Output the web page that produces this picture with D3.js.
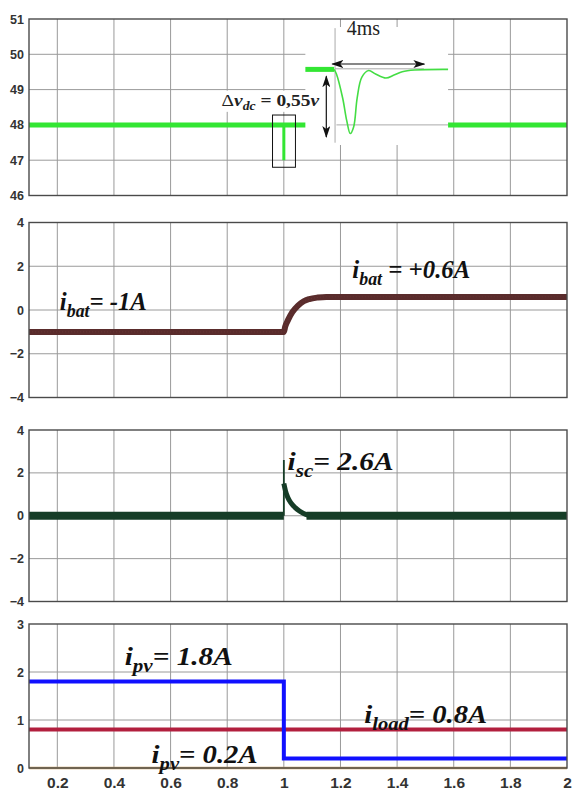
<!DOCTYPE html>
<html><head><meta charset="utf-8">
<script src="https://cdn.jsdelivr.net/npm/d3@7"></script>
<style>body{margin:0;background:#fff}svg{display:block}</style>
</head><body><svg id="c" width="573" height="793"></svg>
<script>
// ---------- data ----------
const xTickValues = [0.2,0.4,0.6,0.8,1,1.2,1.4,1.6,1.8,2];
const xTickLabels = ["0.2","0.4","0.6","0.8","1","1.2","1.4","1.6","1.8","2"];
const vdcTicks = [46,47,48,49,50,51];
const curTicks = [-4,-2,0,2,4];
const pvTicks = [0,1,2,3];

// panel 1: DC bus voltage
const vdcT = [0.1, 2.0];
const vdcV = [48, 48];
const vdcSpikeT = [1.0, 1.0];
const vdcSpikeV = [48, 47];
// zoomed inset (time in ms, voltage in V)
const insetThickT = [-1.25, 0];
const insetThickV = [48, 48];
const insetCurveT = [0, 0.1, 0.37, 0.55, 0.7, 0.85, 1.0, 1.2, 1.5, 1.8, 2.25, 2.6, 2.96, 3.5, 4.95];
const insetCurveV = [48, 47.96, 47.75, 47.55, 47.44, 47.5, 47.75, 47.93, 47.99, 47.96, 47.925, 47.95, 47.98, 47.995, 48];

// panel 2: battery current
const batT = [0.1, 1.0, 1.005, 1.015, 1.03, 1.05, 1.07, 1.09, 1.12, 1.15, 2.0];
const batV = [-1, -1, -0.75, -0.45, -0.1, 0.2, 0.4, 0.5, 0.57, 0.6, 0.6];

// panel 3: supercapacitor current
const scFlatT = [0.1, 1.0];
const scFlatV = [0, 0];
const scSpikeT = [1.0, 1.0];
const scSpikeV = [0, 2.6];
const scDecayT = [1.0, 1.006, 1.014, 1.025, 1.04, 1.055, 1.07, 1.085, 1.1];
const scDecayV = [1.5, 1.15, 0.85, 0.6, 0.38, 0.22, 0.1, 0.03, 0];
const scTailT = [1.08, 2.0];
const scTailV = [0, 0];

// panel 4: PV and load currents
const pvT = [0.1, 1.0, 1.0, 2.0];
const pvV = [1.8, 1.8, 0.2, 0.2];
const loadT = [0.1, 2.0];
const loadV = [0.8, 0.8];
const zeroT = [0.1, 2.0];
const zeroV = [0, 0];

// ---------- layout ----------
const svg = d3.select("#c");
const left = 29, right = 567;
const x = d3.scaleLinear().domain([0.1, 2.0]).range([left, right]);
const panels = [
  {top: 19,  bottom: 195.5, domain: [46, 51], ticks: vdcTicks},
  {top: 222.5, bottom: 397.5, domain: [-4, 4], ticks: curTicks},
  {top: 430, bottom: 601.5, domain: [-4, 4], ticks: curTicks},
  {top: 624, bottom: 768, domain: [0, 3], ticks: pvTicks}
];
panels.forEach(p => { p.y = d3.scaleLinear().domain(p.domain).range([p.bottom, p.top]); });

const gridColor = "#9a9a9a", frameColor = "#4a4a4a", tickFont = "'Liberation Sans',Arial,sans-serif";

panels.forEach(p => {
  const g = svg.append("g");
  g.selectAll(".vg").data(xTickValues.filter(v => v < 2)).join("line")
    .attr("x1", d => x(d)).attr("x2", d => x(d)).attr("y1", p.top).attr("y2", p.bottom)
    .attr("stroke", gridColor).attr("stroke-width", 1);
  g.selectAll(".hg").data(p.ticks.slice(1, -1)).join("line")
    .attr("x1", left).attr("x2", right).attr("y1", d => p.y(d)).attr("y2", d => p.y(d))
    .attr("stroke", gridColor).attr("stroke-width", 1);
  const ya = d3.axisLeft(p.y).tickValues(p.ticks).tickSize(0).tickPadding(5).tickFormat(d3.format("d"));
  const yg = g.append("g").attr("transform", `translate(${left},0)`).call(ya);
  yg.select(".domain").remove();
  yg.selectAll("text").attr("font-family", tickFont).attr("font-weight", "bold").attr("font-size", 12.5).attr("fill", "#333");
});

const line = (xs, ys, yScale, curve) => d3.line().x(d => x(d[0])).y(d => yScale(d[1])).curve(curve || d3.curveLinear)(xs.map((v, i) => [v, ys[i]]));

// scale a text group horizontally to a target width
function fitWidth(g, w) {
  const b = g.node().getBBox();
  const s = w / b.width;
  const ax = +g.attr("data-x"), ay = +g.attr("data-y");
  g.attr("transform", `translate(${ax},${ay}) scale(${s},1)`);
}

// ---------- panel 1 ----------
const p1 = panels[0];
svg.append("path").attr("d", line(vdcT, vdcV, p1.y)).attr("fill", "none").attr("stroke", "#33e633").attr("stroke-width", 5);
svg.append("path").attr("d", line(vdcSpikeT, vdcSpikeV, p1.y)).attr("fill", "none").attr("stroke", "#33e633").attr("stroke-width", 3);
svg.append("rect").attr("x", x(0.96)).attr("y", p1.y(48.28)).attr("width", x(1.041) - x(0.96)).attr("height", p1.y(46.8) - p1.y(48.28))
  .attr("fill", "none").attr("stroke", "#111").attr("stroke-width", 1);

// inset
const ix = d3.scaleLinear().domain([-1.25, 4.95]).range([x(1.076), x(1.58)]);
const iy = d3.scaleLinear().domain([48.37, 47.34]).range([27, 145]);
const ig = svg.append("g");
ig.append("rect").attr("x", ix(-1.25)).attr("y", iy(48.37)).attr("width", ix(4.95) - ix(-1.25)).attr("height", iy(47.34) - iy(48.37)).attr("fill", "#fff");
ig.append("line").attr("x1", ix(0.04)).attr("x2", ix(0.04)).attr("y1", iy(48.36)).attr("y2", iy(47.36)).attr("stroke", "#aaa").attr("stroke-width", 1);
ig.append("line").attr("x1", ix(0.1)).attr("x2", ix(4.95)).attr("y1", p1.y(48)).attr("y2", p1.y(48)).attr("stroke", "#aaa").attr("stroke-width", 1);
ig.append("line").attr("x1", ix(0.04)).attr("x2", ix(3.9)).attr("y1", iy(48.005)).attr("y2", iy(48.005)).attr("stroke", "#aaa").attr("stroke-width", 1);
ig.append("path").attr("d", d3.line().x(d => ix(d[0])).y(d => iy(d[1]))(insetThickT.map((v, i) => [v, insetThickV[i]])))
  .attr("fill", "none").attr("stroke", "#33e633").attr("stroke-width", 5);
ig.append("path").attr("d", d3.line().x(d => ix(d[0])).y(d => iy(d[1])).curve(d3.curveCatmullRom.alpha(0.5))(insetCurveT.map((v, i) => [v, insetCurveV[i]])))
  .attr("fill", "none").attr("stroke", "#44dd44").attr("stroke-width", 1.6);
const defs = svg.append("defs");
defs.append("marker").attr("id", "ah").attr("viewBox", "0 0 12 8").attr("refX", 11).attr("refY", 4)
  .attr("markerWidth", 12).attr("markerHeight", 8).attr("markerUnits", "userSpaceOnUse").attr("orient", "auto-start-reverse")
  .append("path").attr("d", "M0,0 L12,4 L0,8 L3,4 Z").attr("fill", "#111");
ig.append("line").attr("x1", ix(-0.08)).attr("x2", ix(3.92)).attr("y1", iy(48.047)).attr("y2", iy(48.047))
  .attr("stroke", "#111").attr("stroke-width", 1.2).attr("marker-start", "url(#ah)").attr("marker-end", "url(#ah)");
ig.append("line").attr("x1", ix(-0.34)).attr("x2", ix(-0.34)).attr("y1", iy(47.94)).attr("y2", iy(47.41))
  .attr("stroke", "#111").attr("stroke-width", 1.2).attr("marker-start", "url(#ah)").attr("marker-end", "url(#ah)");
ig.append("text").attr("x", ix(1.27)).attr("y", iy(48.3)).attr("text-anchor", "middle")
  .attr("font-family", "'Liberation Serif','Times New Roman',serif").attr("font-size", 20).attr("fill", "#222").text("4ms");

// annotation delta v (on top of the inset)
svg.append("rect").attr("x", x(0.78)).attr("y", p1.y(48.97)).attr("width", x(1.14) - x(0.78)).attr("height", p1.y(48.37) - p1.y(48.97)).attr("fill", "#fff");
const dvg = svg.append("g").attr("data-x", x(0.78)).attr("data-y", p1.y(48.53));
const dv = dvg.append("text").attr("x", 0).attr("y", 0).attr("font-family", "'Liberation Serif','Times New Roman',serif").attr("font-size", 17).attr("fill", "#222");
dv.append("tspan").text("Δ");
dv.append("tspan").attr("font-style", "italic").attr("font-weight", "bold").text("v");
dv.append("tspan").attr("font-style", "italic").attr("font-weight", "bold").attr("font-size", 12).attr("dy", 4).text("dc");
dv.append("tspan").attr("dy", -4).attr("font-weight", "bold").text(" = 0,55");
dv.append("tspan").attr("font-style", "italic").attr("font-weight", "bold").text("v");
fitWidth(dvg, 98);

// ---------- panel 2 ----------
const p2 = panels[1];
svg.append("path").attr("d", line(batT, batV, p2.y, d3.curveMonotoneX)).attr("fill", "none").attr("stroke", "#5a2c2c").attr("stroke-width", 6);
svg.append("path").attr("d", line(batT, batV, p2.y, d3.curveMonotoneX)).attr("fill", "none").attr("stroke", "#6e3a3a").attr("stroke-width", 1).attr("stroke-dasharray", "1,2").attr("opacity", 0.6);

// ---------- panel 3 ----------
const p3 = panels[2];
const scCol = "#163d27";
svg.append("path").attr("d", line(scFlatT, scFlatV, p3.y)).attr("fill", "none").attr("stroke", scCol).attr("stroke-width", 8);
svg.append("path").attr("d", line(scTailT, scTailV, p3.y)).attr("fill", "none").attr("stroke", scCol).attr("stroke-width", 8);
svg.append("path").attr("d", line(scSpikeT, scSpikeV, p3.y)).attr("fill", "none").attr("stroke", scCol).attr("stroke-width", 1.8);
svg.append("path").attr("d", line(scDecayT, scDecayV, p3.y, d3.curveMonotoneX)).attr("fill", "none").attr("stroke", scCol).attr("stroke-width", 5);

// ---------- panel 4 ----------
const p4 = panels[3];
svg.append("path").attr("d", line(zeroT, zeroV, p4.y)).attr("fill", "none").attr("stroke", "#c9a163").attr("stroke-width", 2.5);
svg.append("path").attr("d", line(loadT, loadV, p4.y)).attr("fill", "none").attr("stroke", "#b21f3e").attr("stroke-width", 4);
svg.append("path").attr("d", line(pvT, pvV, p4.y)).attr("fill", "none").attr("stroke", "#1010ff").attr("stroke-width", 4);

// x tick labels on bottom panel
const xa = d3.axisBottom(x).tickValues(xTickValues).tickSize(0).tickPadding(9).tickFormat((d, i) => xTickLabels[i]);
const xg = svg.append("g").attr("transform", `translate(0,${p4.bottom})`).call(xa);
xg.select(".domain").remove();
xg.selectAll("text").attr("font-family", tickFont).attr("font-weight", "bold").attr("font-size", 15.5).attr("fill", "#333");

// frames
panels.forEach(p => {
  svg.append("rect").attr("x", left).attr("y", p.top).attr("width", right - left).attr("height", p.bottom - p.top)
    .attr("fill", "none").attr("stroke", frameColor).attr("stroke-width", 1.4);
});

// ---------- labels ----------
const labelFont = "'Liberation Serif','Times New Roman',serif";
function label(px, py, main, sub, rest, size, width) {
  const g = svg.append("g").attr("data-x", px).attr("data-y", py);
  const t = g.append("text").attr("x", 0).attr("y", 0).attr("font-family", labelFont)
    .attr("font-weight", "bold").attr("font-style", "italic").attr("font-size", size).attr("fill", "#111");
  t.append("tspan").text(main);
  t.append("tspan").attr("font-size", size * 0.72).attr("dy", size * 0.27).text(sub);
  t.append("tspan").attr("dy", -size * 0.27).text(rest);
  fitWidth(g, width);
}
label(x(0.209), p2.y(0), "i", "bat", "= -1A", 25, 87);
label(x(1.242), p2.y(1.46), "i", "bat", " = +0.6A", 25, 118);
label(x(1.013), p3.y(2.12), "i", "sc", "= 2.6A", 25, 106);
label(x(0.438), p4.y(2.15), "i", "pv", "= 1.8A", 25, 108);
label(x(0.533), p4.y(0.1), "i", "pv", "= 0.2A", 25, 106);
label(x(1.284), p4.y(0.94), "i", "load", "= 0.8A", 25, 123);
</script></body></html>
